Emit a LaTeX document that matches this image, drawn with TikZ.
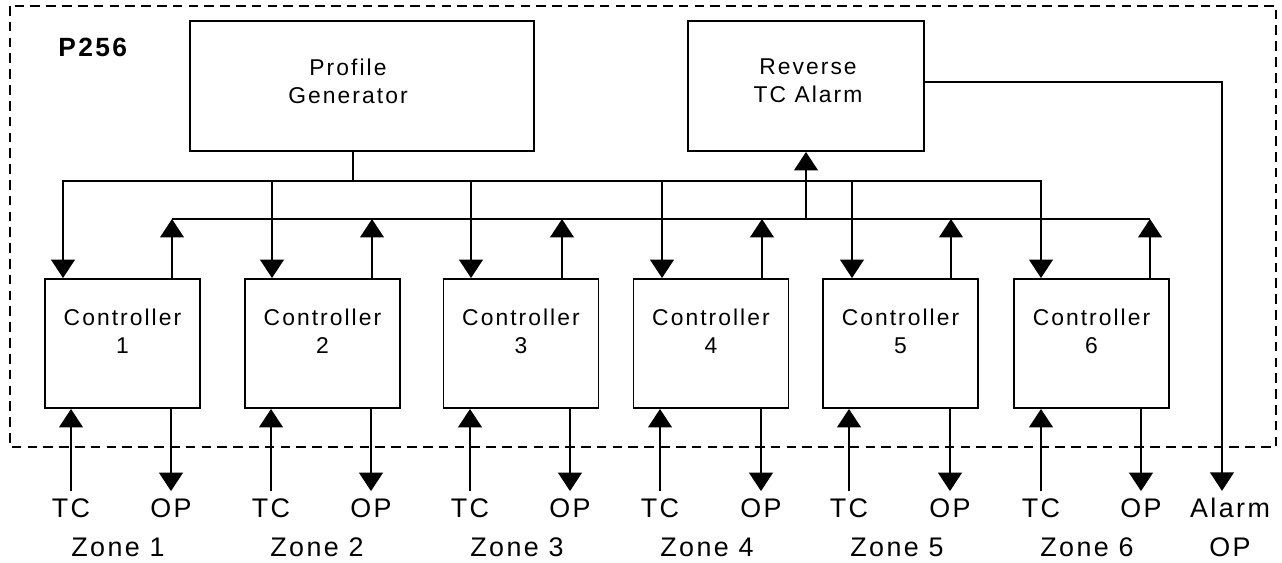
\documentclass[tikz,border=0pt]{standalone}
\usepackage{fontspec}
\setmainfont{Liberation Sans}
\newfontfamily\widefont[LetterSpace=9]{Liberation Sans}
\usetikzlibrary{arrows.meta}

\begin{document}
\begin{tikzpicture}[x=0.02cm, y=-0.02cm,
    box/.style={draw, line width=1.1pt, inner sep=0pt},
    boxtext/.style={align=center, inner sep=0pt, font=\fontsize{13}{15.9}\selectfont\widefont},
    iotext/.style={align=center, inner sep=4pt, font=\fontsize{15.3}{22.1}\selectfont\widefont},
    wire/.style={line width=1.1pt},
    feed/.style={line width=1.1pt, -{Triangle[length=10.5pt,width=13.5pt]}}]

    \useasboundingbox (0,0) rectangle (1282,562);

    % Dashed outline of the unit
    \draw[line width=1.5pt, dash pattern=on 5.5pt off 3.5pt] (10,6) rectangle (1276,447);
    \node[anchor=west, inner sep=0pt, font=\fontsize{15}{18}\selectfont\widefont\bfseries] (unit) at (58,47) {P256};

    % Top blocks
    \node[box, minimum width=6.88cm, minimum height=2.6cm] (pg) at (362,86) {};
    \node[boxtext] (pgtext) at (348,81) {Profile\\Generator};
    \node[box, minimum width=4.72cm, minimum height=2.6cm] (rta) at (806,86) {};
    \node[boxtext] (rtatext) at (808,81) {Reverse\\TC Alarm};

    % Controllers
    \node[box, minimum width=3.1cm, minimum height=2.58cm] (c1) at (122.5,343.5) {};
    \node[box, minimum width=3.1cm, minimum height=2.58cm] (c2) at (322.5,343.5) {};
    \node[box, minimum width=3.1cm, minimum height=2.58cm] (c3) at (521,343.5) {};
    \node[box, minimum width=3.1cm, minimum height=2.58cm] (c4) at (711,343.5) {};
    \node[box, minimum width=3.1cm, minimum height=2.58cm] (c5) at (900.5,343.5) {};
    \node[box, minimum width=3.1cm, minimum height=2.58cm] (c6) at (1091.5,343.5) {};
    \node[boxtext] (c1text) at (122.5,331) {Controller\\1};
    \node[boxtext] (c2text) at (322.5,331) {Controller\\2};
    \node[boxtext] (c3text) at (521,331) {Controller\\3};
    \node[boxtext] (c4text) at (711,331) {Controller\\4};
    \node[boxtext] (c5text) at (900.5,331) {Controller\\5};
    \node[boxtext] (c6text) at (1091.5,331) {Controller\\6};

    % Profile bus down to every controller
    \coordinate (busa) at (353,181);
    \draw[wire] (pg.south -| busa) -- (busa);
    \draw[feed] (busa) -| (c1.north -| 63,0);
    \draw[feed] (busa) -| (c6.north -| 1041,0);
    \draw[feed] (busa -| 272,0) -- (c2.north -| 272,0);
    \draw[feed] (busa -| 471,0) -- (c3.north -| 471,0);
    \draw[feed] (busa -| 662,0) -- (c4.north -| 662,0);
    \draw[feed] (busa -| 852,0) -- (c5.north -| 852,0);

    % Return bus up to the alarm
    \coordinate (busb) at (806,219);
    \draw[wire] (busb -| 172,0) -- (busb -| 1150,0);
    \draw[feed] (busb) -- (rta.south);
    \draw[feed] (c1.north -| 172,0) -- (busb -| 172,0);
    \draw[feed] (c2.north -| 372,0) -- (busb -| 372,0);
    \draw[feed] (c3.north -| 562,0) -- (busb -| 562,0);
    \draw[feed] (c4.north -| 762,0) -- (busb -| 762,0);
    \draw[feed] (c5.north -| 951,0) -- (busb -| 951,0);
    \draw[feed] (c6.north -| 1150,0) -- (busb -| 1150,0);

    % Zone inputs and outputs
    \node[iotext] (tc1) at (71,508) {TC};
    \node[iotext] (op1) at (171,508) {OP};
    \node[iotext] (tc2) at (271,508) {TC};
    \node[iotext] (op2) at (371,508) {OP};
    \node[iotext] (tc3) at (470,508) {TC};
    \node[iotext] (op3) at (570,508) {OP};
    \node[iotext] (tc4) at (660,508) {TC};
    \node[iotext] (op4) at (761,508) {OP};
    \node[iotext] (tc5) at (849,508) {TC};
    \node[iotext] (op5) at (950,508) {OP};
    \node[iotext] (tc6) at (1041,508) {TC};
    \node[iotext] (op6) at (1141,508) {OP};
    \node[iotext] (zone1) at (118,547) {Zone 1};
    \node[iotext] (zone2) at (317,547) {Zone 2};
    \node[iotext] (zone3) at (517,547) {Zone 3};
    \node[iotext] (zone4) at (707,547) {Zone 4};
    \node[iotext] (zone5) at (897,547) {Zone 5};
    \node[iotext] (zone6) at (1087,547) {Zone 6};
    \node[iotext] (alarm) at (1230,527.5) {Alarm\\OP};

    \draw[feed] (tc1) -- (c1.south -| tc1);
    \draw[feed] (tc2) -- (c2.south -| tc2);
    \draw[feed] (tc3) -- (c3.south -| tc3);
    \draw[feed] (tc4) -- (c4.south -| tc4);
    \draw[feed] (tc5) -- (c5.south -| tc5);
    \draw[feed] (tc6) -- (c6.south -| tc6);
    \draw[feed] (c1.south -| op1) -- (op1);
    \draw[feed] (c2.south -| op2) -- (op2);
    \draw[feed] (c3.south -| op3) -- (op3);
    \draw[feed] (c4.south -| op4) -- (op4);
    \draw[feed] (c5.south -| op5) -- (op5);
    \draw[feed] (c6.south -| op6) -- (op6);

    % Alarm output
    \draw[feed] ([yshift=2.3pt]rta.east) -| (alarm.north -| 1222,0);

\end{tikzpicture}
\end{document}
